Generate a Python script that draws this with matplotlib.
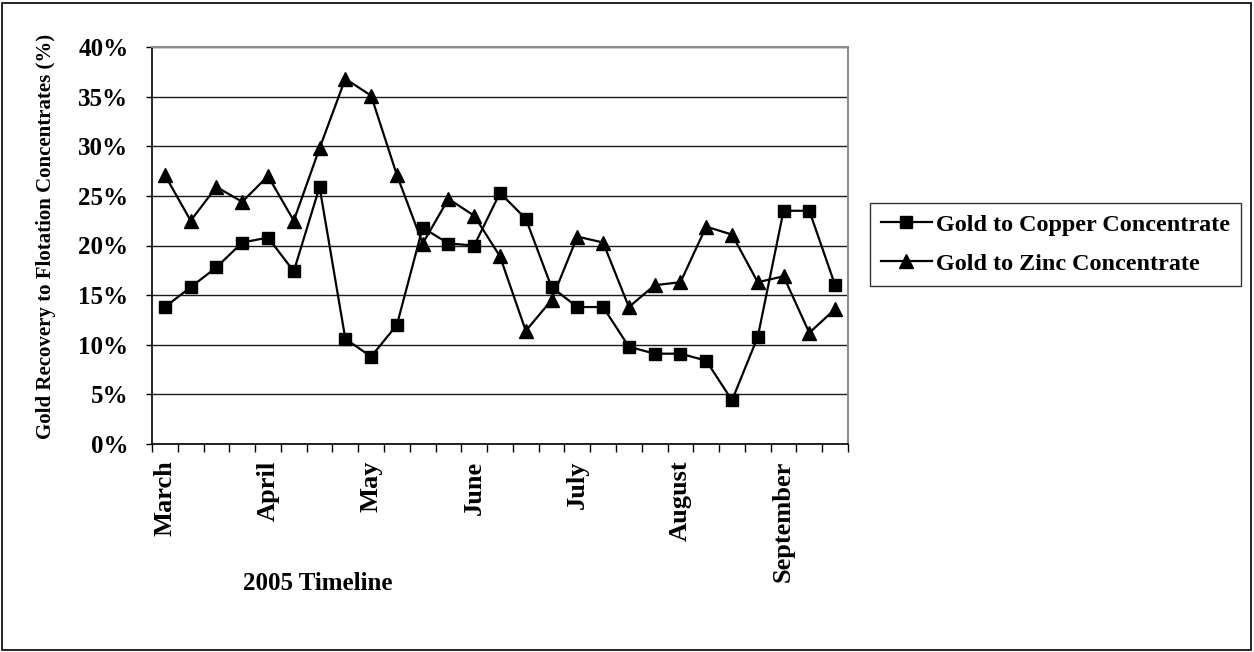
import numpy as np
import matplotlib
matplotlib.use("Agg")
import matplotlib.pyplot as plt
from matplotlib.patches import Rectangle

plt.rcParams['font.family'] = ['Liberation Serif', 'DejaVu Serif']
plt.rcParams['font.weight'] = 'bold'

# weekly samples, March - September 2005
copper = [13.8, 15.8, 17.8, 20.3, 20.8, 17.4, 25.9, 10.6, 8.8, 12.0,
          21.8, 20.2, 20.0, 25.3, 22.7, 15.8, 13.8, 13.8, 9.8, 9.1,
          9.1, 8.4, 4.4, 10.8, 23.5, 23.5, 16.0]
zinc = [27.1, 22.5, 25.9, 24.4, 27.0, 22.5, 29.8, 36.8, 35.1, 27.1,
        20.2, 24.7, 23.0, 18.9, 11.4, 14.5, 20.9, 20.3, 13.8, 16.0,
        16.3, 21.9, 21.1, 16.3, 16.9, 11.2, 13.6]
month_names = ['March', 'April', 'May', 'June', 'July', 'August', 'September']
month_pos = [0, 4, 8, 12, 16, 20, 24]
series_names = ['Gold to Copper Concentrate', 'Gold to Zinc Concentrate']

x = np.arange(len(copper))

fig = plt.figure(figsize=(12.54, 6.52), dpi=100)
ax = fig.add_axes([152/1254, 1-444/652, 696/1254, 397/652])

ax.plot(x, copper, color='black', lw=1.6, marker='s', ms=8, label=series_names[0])
ax.plot(x, zinc, color='black', lw=1.6, marker='^', ms=10, label=series_names[1])

ax.set_ylim(0, 40)
ax.set_xlim(-0.5, len(x) - 0.5)
ax.set_yticks(np.arange(0, 41, 5))
ax.set_yticklabels(['%d%%' % v for v in range(0, 41, 5)], fontsize=18, fontweight='bold')
ax.tick_params(axis='y', length=4, width=1, pad=13)
ax.yaxis.grid(True, color='#1a1a1a', lw=1)
ax.set_axisbelow(True)

# tick marks between categories, month names under the first week of each month
ax.set_xticks(np.arange(-0.5, len(x), 1))
ax.set_xticklabels([])
ax.tick_params(axis='x', which='major', length=6, width=1)
ax.set_xticks(month_pos, minor=True)
ax.set_xticklabels(month_names, minor=True, rotation=90, fontsize=19,
                   fontweight='bold', va='top', ha='center')
ax.tick_params(axis='x', which='minor', length=0, pad=12)

for s in ['top', 'right']:
    ax.spines[s].set_color('#8c8c8c')
    ax.spines[s].set_linewidth(1.5)
for s in ['left', 'bottom']:
    ax.spines[s].set_color('black')
    ax.spines[s].set_linewidth(1.2)

fig.text(46/1254, 1-236/652, 'Gold Recovery to Flotation Concentrates (%)',
         rotation=90, ha='center', va='center', fontsize=15, fontweight='bold')
fig.text(318/1254, 1-583/652, '2005 Timeline', ha='center', va='center',
         fontsize=18, fontweight='bold')

leg = fig.legend(loc='upper left', bbox_to_anchor=(870/1254, 1-203/652),
                 frameon=True, fancybox=False, fontsize=17.4, handlelength=2.1,
                 handletextpad=0.2, borderpad=0.45, labelspacing=0.7,
                 borderaxespad=0)
leg.get_frame().set_edgecolor('black')
leg.get_frame().set_linewidth(1)

fig.patches.append(Rectangle((2/1254, 2/652), 1249/1254, 647/652,
                             transform=fig.transFigure, fill=False,
                             edgecolor='black', lw=1.2))

fig.savefig('out.png', dpi=100)
